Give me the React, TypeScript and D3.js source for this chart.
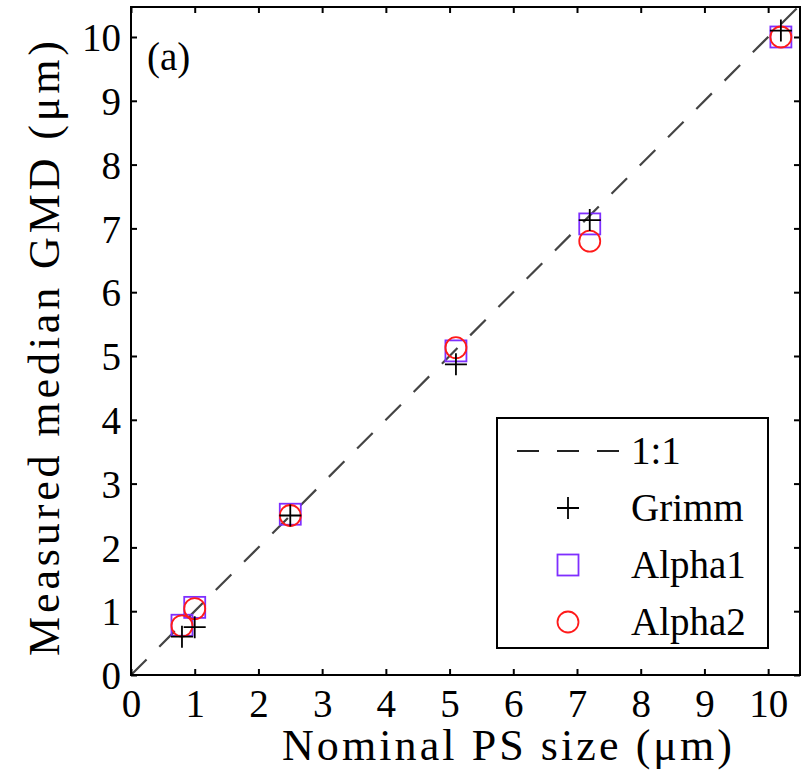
import React, { useEffect, useRef } from "react";
import * as d3 from "d3";

// nominal sizes (um)
const nominal = [0.8, 1.0, 2.5, 5.1, 7.2, 10.2];
const grimm = [0.6, 0.75, 2.5, 4.87, 7.13, 10.1];
const alpha1 = [0.78, 1.06, 2.52, 5.08, 7.07, 10.0];
const alpha2 = [0.77, 1.04, 2.5, 5.13, 6.8, 10.0];
const ticks = [0, 1, 2, 3, 4, 5, 6, 7, 8, 9, 10];
const legendItems = ["1:1", "Grimm", "Alpha1", "Alpha2"];

const FONT = "Liberation Serif, DejaVu Serif, serif";

const App = () => {
  const svgRef = useRef<SVGSVGElement>(null);

  useEffect(() => {
    const svg = d3.select(svgRef.current);
    svg.selectAll("*").remove();

    const left = 131, right = 800, top = 7, bottom = 675;
    const x = d3.scaleLinear().domain([0, 10.5]).range([left, right]);
    const y = d3.scaleLinear().domain([0, 10.47]).range([bottom, top]);

    const g = svg.append("g").style("font-family", FONT);

    // 1:1 line
    g.append("line")
      .attr("x1", x(0)).attr("y1", y(0))
      .attr("x2", x(10.47)).attr("y2", y(10.47))
      .attr("stroke", "#444").attr("stroke-width", 2.2)
      .attr("stroke-dasharray", "22,18");

    // squares
    const sq = 21;
    g.selectAll("rect.a1")
      .data(nominal)
      .join("rect")
      .attr("x", (d) => x(d) - sq / 2)
      .attr("y", (d, i) => y(alpha1[i]) - sq / 2)
      .attr("width", sq).attr("height", sq)
      .attr("fill", "none").attr("stroke", "#7f2fff").attr("stroke-width", 1.8);

    // circles
    g.selectAll("circle.a2")
      .data(nominal)
      .join("circle")
      .attr("cx", (d) => x(d))
      .attr("cy", (d, i) => y(alpha2[i]))
      .attr("r", 10.5)
      .attr("fill", "none").attr("stroke", "#ff1a1a").attr("stroke-width", 1.8);

    // pluses
    const ps = 11;
    g.selectAll("path.grimm")
      .data(nominal)
      .join("path")
      .attr("d", `M${-ps},0H${ps}M0,${-ps}V${ps}`)
      .attr("transform", (d, i) => `translate(${x(d)},${y(grimm[i])})`)
      .attr("stroke", "#000").attr("stroke-width", 1.8).attr("fill", "none");

    // frame
    g.append("rect")
      .attr("x", left).attr("y", top)
      .attr("width", right - left).attr("height", bottom - top)
      .attr("fill", "none").attr("stroke", "#000").attr("stroke-width", 2);

    // axes with inward ticks on all sides
    const tl = 6;
    const axB = g.append("g").attr("transform", `translate(0,${bottom})`)
      .call(d3.axisBottom(x).tickValues(ticks).tickSize(-tl).tickPadding(14).tickFormat(d3.format("d")));
    const axT = g.append("g").attr("transform", `translate(0,${top})`)
      .call(d3.axisTop(x).tickValues(ticks).tickSize(-tl).tickFormat(() => ""));
    const axL = g.append("g").attr("transform", `translate(${left},0)`)
      .call(d3.axisLeft(y).tickValues(ticks).tickSize(-tl).tickPadding(10).tickFormat(d3.format("d")));
    const axR = g.append("g").attr("transform", `translate(${right},0)`)
      .call(d3.axisRight(y).tickValues(ticks).tickSize(-tl).tickFormat(() => ""));
    [axB, axT, axL, axR].forEach((a) => {
      a.attr("font-family", null).attr("font-size", null);
      a.select(".domain").remove();
      a.selectAll("line").attr("stroke", "#000").attr("stroke-width", 2);
      a.selectAll("text").style("font-family", FONT).attr("font-size", 39).attr("fill", "#000");
    });
    axL.selectAll("text").attr("dy", "0.35em");

    // panel label
    g.append("text").attr("x", 147).attr("y", 70)
      .attr("font-size", 39).text("(a)");

    // axis titles
    g.append("text")
      .attr("x", 282).attr("y", 760)
      .attr("textLength", 450).attr("lengthAdjust", "spacing")
      .attr("font-size", 44)
      .text("Nominal PS size (\u03bcm)");
    g.append("text")
      .attr("transform", `translate(59,656) rotate(-90)`)
      .attr("textLength", 615).attr("lengthAdjust", "spacing")
      .attr("font-size", 44)
      .text("Measured median GMD (\u03bcm)");

    // legend
    const lx = 497, ly = 418, lw = 271, lh = 230;
    const lg = g.append("g");
    lg.append("rect").attr("x", lx).attr("y", ly).attr("width", lw).attr("height", lh)
      .attr("fill", "#fff").attr("stroke", "#000").attr("stroke-width", 2);
    const rowY = (i: number) => ly + 33 + i * 57;
    lg.append("line")
      .attr("x1", lx + 20).attr("x2", lx + 122)
      .attr("y1", rowY(0)).attr("y2", rowY(0))
      .attr("stroke", "#222").attr("stroke-width", 2).attr("stroke-dasharray", "22,18");
    const mx = lx + 71;
    lg.append("path")
      .attr("d", `M${mx - ps},${rowY(1)}H${mx + ps}M${mx},${rowY(1) - ps}V${rowY(1) + ps}`)
      .attr("stroke", "#000").attr("stroke-width", 1.8);
    lg.append("rect")
      .attr("x", mx - sq / 2).attr("y", rowY(2) - sq / 2).attr("width", sq).attr("height", sq)
      .attr("fill", "none").attr("stroke", "#7f2fff").attr("stroke-width", 1.8);
    lg.append("circle")
      .attr("cx", mx).attr("cy", rowY(3)).attr("r", 10.5)
      .attr("fill", "none").attr("stroke", "#ff1a1a").attr("stroke-width", 1.8);
    lg.selectAll("text.leg")
      .data(legendItems)
      .join("text")
      .attr("x", lx + 134)
      .attr("y", (d, i) => rowY(i) + 13)
      .attr("font-size", 39)
      .text((d) => d);
  }, []);

  return <svg ref={svgRef} width={806} height={772} style={{ position: "absolute", left: 0, top: 0 }} />;
};

export default App;
